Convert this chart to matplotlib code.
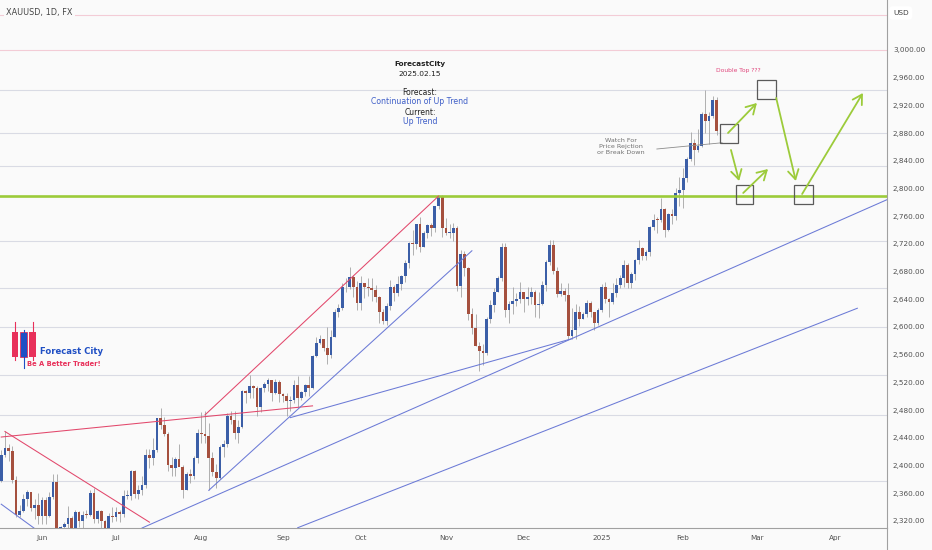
import numpy as np
import pandas as pd
import matplotlib
matplotlib.use("Agg")
import matplotlib.pyplot as plt
from matplotlib.patches import Rectangle
from matplotlib import font_manager as fm

# ---------------- data (XAUUSD daily) ----------------
opens = [2377,2415,2425,2421,2379,2329,2334,2351,2361,2338,2343,
         2327,2350,2327,2355,2376,2294,2311,2316,2324,2303,2333,2319,2329,2328,2360,2322,2334,2319,2298,2327,
         2326,2332,2330,2356,2356,2392,2359,2364,2371,2415,2411,2422,2469,2458,2445,2400,2396,2409,2397,2364,2387,2384,2410,
         2447,2446,2443,2410,2390,2382,2427,2431,2472,2465,2447,2456,2507,2504,2514,2512,2484,2512,2518,2524,2504,2520,
         2503,2500,2493,2495,2516,2497,2506,2516,2512,2558,2577,2582,2569,2559,2586,2622,2628,2657,2657,2672,2658,
         2634,2663,2657,2656,2653,2643,2622,2608,2630,2657,2649,2662,2674,2692,2721,2720,2748,2715,2736,2747,2743,2774,2788,
         2743,2736,2736,2743,2659,2706,2685,2619,2598,2573,2565,2562,2612,2631,2651,2670,2715,2625,2633,2637,2640,
         2650,2640,2643,2650,2632,2633,2660,2694,2718,2681,2648,2652,2646,2587,2595,2622,2612,2618,2634,2621,2606,
         2624,2658,2640,2636,2649,2661,2670,2690,2663,2677,2697,2714,2702,2708,2745,2755,2754,2770,2740,2763,2760,2794,
         2798,2815,2842,2866,2856,2861,2908,2898,2905,2928]
highs = [2422,2450,2431,2428,2385,2343,2358,2364,2362,2352,2360,
         2355,2354,2361,2388,2388,2313,2318,2342,2327,2335,2334,2334,2335,2365,2368,2335,2336,2321,2331,2340,
         2340,2335,2364,2364,2393,2393,2371,2385,2424,2424,2440,2469,2483,2470,2448,2412,2412,2431,2400,2390,2395,2413,2452,
         2477,2478,2461,2419,2402,2430,2437,2475,2479,2479,2466,2509,2509,2531,2516,2514,2513,2521,2526,2524,2525,2524,
         2505,2504,2500,2523,2529,2507,2518,2529,2560,2586,2589,2583,2600,2595,2626,2633,2664,2670,2686,2675,2666,
         2673,2664,2671,2670,2660,2644,2626,2634,2668,2660,2674,2675,2696,2722,2740,2749,2759,2738,2748,2750,2774,2790,2790,
         2758,2748,2750,2746,2711,2709,2686,2627,2618,2578,2576,2614,2639,2656,2674,2721,2721,2637,2658,2649,2665,
         2650,2658,2658,2654,2650,2667,2697,2726,2726,2686,2664,2656,2663,2628,2633,2630,2622,2639,2637,2622,2627,
         2662,2665,2642,2664,2670,2675,2697,2692,2680,2698,2725,2716,2711,2746,2763,2759,2786,2772,2764,2770,2800,2817,
         2830,2845,2882,2871,2886,2911,2942,2910,2933,2932]
lows = [2376,2412,2407,2374,2325,2325,2333,2341,2334,2323,2315,
        2316,2315,2325,2352,2287,2287,2298,2302,2300,2302,2311,2309,2324,2327,2317,2317,2309,2293,2296,2318,
        2319,2318,2326,2351,2350,2353,2352,2357,2367,2396,2401,2419,2453,2442,2392,2384,2385,2403,2353,2364,2375,2381,2404,
        2433,2432,2364,2384,2368,2380,2412,2427,2460,2438,2432,2454,2490,2497,2498,2471,2477,2506,2507,2493,2503,2491,
        2491,2472,2478,2490,2485,2494,2500,2500,2510,2556,2575,2565,2546,2555,2585,2615,2625,2651,2655,2643,2625,
        2624,2642,2644,2638,2636,2606,2604,2603,2625,2637,2645,2654,2665,2685,2704,2713,2708,2715,2728,2732,2737,2771,2730,
        2733,2729,2724,2652,2643,2674,2610,2590,2573,2537,2545,2559,2605,2622,2650,2667,2614,2605,2619,2630,2634,
        2622,2631,2633,2614,2613,2631,2652,2690,2676,2643,2644,2637,2583,2583,2583,2602,2612,2614,2614,2596,2603,
        2622,2634,2615,2633,2643,2656,2657,2656,2656,2668,2691,2696,2696,2703,2740,2735,2751,2730,2739,2748,2755,2774,
        2772,2809,2840,2834,2853,2860,2880,2864,2902,2877]
closes = [2415,2425,2421,2379,2329,2334,2351,2361,2338,2343,2327,
          2350,2327,2355,2376,2294,2311,2316,2324,2303,2333,2319,2329,2328,2360,2322,2334,2319,2298,2327,2326,
          2332,2330,2356,2356,2392,2359,2364,2371,2415,2411,2422,2469,2458,2445,2400,2396,2409,2397,2364,2387,2384,2410,2447,
          2446,2443,2410,2390,2382,2427,2431,2472,2465,2447,2456,2507,2504,2514,2512,2484,2512,2518,2524,2504,2520,2503,
          2500,2493,2495,2516,2497,2506,2516,2512,2558,2577,2582,2569,2559,2586,2622,2628,2657,2657,2672,2658,2634,
          2663,2657,2656,2653,2643,2622,2608,2630,2657,2649,2662,2674,2692,2721,2720,2748,2715,2736,2747,2743,2774,2788,2743,
          2736,2736,2743,2659,2706,2685,2619,2598,2573,2565,2562,2612,2631,2651,2670,2715,2625,2633,2637,2640,2650,
          2640,2643,2650,2632,2633,2660,2694,2718,2681,2648,2652,2646,2587,2595,2622,2612,2618,2634,2621,2606,2624,
          2658,2640,2636,2649,2661,2670,2690,2663,2677,2697,2714,2702,2708,2745,2755,2754,2770,2740,2763,2760,2794,2798,
          2815,2842,2866,2856,2861,2908,2898,2905,2928,2883]

holidays = ["2024-12-25", "2025-01-01"]
first_day, last_day, calendar_end = "2024-05-17", "2025-02-14", "2025-05-30"

month_names = ["Jun", "Jul", "Aug", "Sep", "Oct", "Nov", "Dec", "2025", "Feb", "Mar", "Apr"]
price_ticks = list(range(2320, 3001, 40))

# horizontal support/resistance levels drawn on chart
levels_gray = [2942, 2880, 2832.5, 2724, 2656, 2600, 2530.6, 2472.8, 2377.5]
levels_pink = [3050.5, 3000]
key_level = 2789

# trend lines: (bar index, price) pairs
red_lines = [((0, 2441), (84, 2486)), ((1, 2449), (40, 2318)), ((55, 2473), (118, 2789))]
blue_lines = [((0, 2344), (10, 2305)), ((56, 2364), (127, 2710)), ((78, 2469), (154, 2583)),
              ((38, 2309.6), (239, 2783.8)), ((80, 2310), (231, 2627))]
watch_line = ((176.9, 2857), (194.5, 2866))
boxes = [(193.95, 198.8, 2865.7, 2893.1), (203.93, 209.06, 2929.2, 2956.7),
         (198.26, 202.85, 2777.6, 2805.0), (213.91, 219.04, 2777.6, 2805.0)]
arrows = [((196.1, 2880.1), (203.9, 2923.5)), ((196.9, 2855.6), (199.1, 2810.8)),
          ((200.2, 2793.5), (206.9, 2828.1)), ((209.1, 2930.7), (214.4, 2810.8)),
          ((216.1, 2792.0), (232.5, 2937.9))]

# ---------------- setup ----------------
BG = "#fafafa"
UP, DOWN, WICK = "#3b5ea7", "#a5503e", "#a3a3a3"
RED, BLUE, GREEN = "#e2476b", "#6b7ad6", "#9ccb3a"

hol = pd.to_datetime(holidays)
cal = pd.bdate_range(first_day, calendar_end)
cal = cal[~cal.isin(hol)]
dates = cal[cal <= pd.Timestamp(last_day)]
assert len(dates) == len(closes)

fig = plt.figure(figsize=(9.32, 5.5), dpi=100, facecolor=BG)
ax = fig.add_axes([0, 22 / 550, 887 / 932, 528 / 550], facecolor=BG)
ax.set_xlim(-0.33, 239.0)
ax.set_ylim(2309.6, 3072.2)

# levels
for p in levels_gray:
    ax.axhline(p, color="#d9dbe4", lw=0.8, zorder=1)
for p in levels_pink:
    ax.axhline(p, color="#f3ccd6", lw=0.8, zorder=1)

# candles
x = np.arange(len(closes))
o, h, l, c = map(np.array, (opens, highs, lows, closes))
up = c >= o
ax.vlines(x, l, h, color=WICK, lw=0.6, zorder=2)
bottom = np.minimum(o, c)
height = np.maximum(np.abs(c - o), 1.2)
ax.bar(x[up], height[up], bottom=bottom[up], width=0.74, color=UP, lw=0, zorder=3)
ax.bar(x[~up], height[~up], bottom=bottom[~up], width=0.74, color=DOWN, lw=0, zorder=3)

# key level
ax.axhline(key_level, color=GREEN, lw=1.9, zorder=4)

# trendlines
for (a, b) in red_lines:
    ax.plot([a[0], b[0]], [a[1], b[1]], color=RED, lw=0.75, zorder=5)
for (a, b) in blue_lines:
    ax.plot([a[0], b[0]], [a[1], b[1]], color=BLUE, lw=0.75, zorder=5)
ax.plot([watch_line[0][0], watch_line[1][0]], [watch_line[0][1], watch_line[1][1]],
        color="#8c8c8c", lw=0.6, zorder=5)

for (x0, x1, y0, y1) in boxes:
    ax.add_patch(Rectangle((x0, y0), x1 - x0, y1 - y0, fill=False, ec="#5a5a5a", lw=0.9, zorder=6))
for (a, b) in arrows:
    ax.annotate("", xy=b, xytext=a,
                arrowprops=dict(arrowstyle="->,head_length=0.55,head_width=0.32", color=GREEN,
                                lw=1.3, shrinkA=0, shrinkB=0, mutation_scale=12), zorder=7)

ax.text(198.8, 2969.7, "Double Top ???", color="#e0457b", fontsize=4.3, ha="center", va="center", zorder=8)
ax.text(167.2, 2861, "Watch For\nPrice Rejction\nor Break Down", color="#707070", fontsize=4.6,
        ha="center", va="center", linespacing=1.2, zorder=8)

# axes styling
for s in ["left", "top"]:
    ax.spines[s].set_visible(False)
for s in ["right", "bottom"]:
    ax.spines[s].set_color("#a0a0a0")
    ax.spines[s].set_linewidth(0.8)
ax.yaxis.tick_right()
ax.set_yticks(price_ticks)
ax.set_yticklabels([f"{p:,.2f}" for p in price_ticks])
ax.tick_params(axis="y", length=0, pad=4.3, labelsize=5.2, labelcolor="#505050")

per = cal.to_period("M")
uniq = per.unique()[1:1 + len(month_names)]
month_idx = [int(np.argmax(per == p)) for p in uniq]
ax.set_xticks(month_idx)
ax.set_xticklabels(month_names)
ax.tick_params(axis="x", length=0, pad=5.0, labelsize=5.2, labelcolor="#505050")

# ---------------- overlay (pixel coords) ----------------
ov = fig.add_axes([0, 0, 1, 1], facecolor="none")
ov.set_xlim(0, 932)
ov.set_ylim(550, 0)
ov.axis("off")
ov.plot([887, 887], [528, 550], color="#a0a0a0", lw=0.8)

ov.text(6, 13, "XAUUSD, 1D, FX", fontsize=5.9, color="#454545", ha="left", va="center",
        bbox=dict(fc=BG, ec="none", pad=1.5))
ov.text(893, 13, "USD", fontsize=5.3, color="#404040", ha="left", va="center",
        bbox=dict(boxstyle="round,pad=0.5", fc="white", ec="none"))

cx = 420
ov.text(cx, 64, "ForecastCity", fontsize=5.2, weight="bold", color="#202020", ha="center", va="center")
ov.text(cx, 74, "2025.02.15", fontsize=5.4, color="#202020", ha="center", va="center")
ov.text(cx, 92.7, "Forecast:", fontsize=5.5, color="#202020", ha="center", va="center")
ov.text(cx, 102, "Continuation of Up Trend", fontsize=5.6, color="#3f5fc8", ha="center", va="center")
ov.text(cx, 112.3, "Current:", fontsize=5.5, color="#202020", ha="center", va="center")
ov.text(cx, 121.7, "Up Trend", fontsize=5.6, color="#3f5fc8", ha="center", va="center")

# logo
LRED, LBLUE = "#e8305a", "#1f4fc4"
ov.plot([15, 15], [322, 360], color=LRED, lw=0.8)
ov.plot([33, 33], [322, 360], color=LRED, lw=0.8)
ov.plot([24, 24], [330, 368], color=LBLUE, lw=0.8)
ov.add_patch(Rectangle((12, 332), 6, 25, fc=LRED, ec="none"))
ov.add_patch(Rectangle((29, 332), 7, 25, fc=LRED, ec="none"))
ov.add_patch(Rectangle((20, 332), 7, 25, fc=LBLUE, ec=LRED, lw=0.6))
names = {f.name for f in fm.fontManager.ttflist}
if "Liberation Sans Narrow" in names:
    lf, s1, s2 = "Liberation Sans Narrow", 8.7, 6.9
else:
    lf, s1, s2 = "DejaVu Sans", 6.1, 4.9
ov.text(40, 352, "Forecast City", fontsize=s1, weight="bold", family=lf, color=LBLUE, ha="left", va="center")
ov.text(27, 364.5, "Be A Better Trader!", fontsize=s2, weight="bold", family=lf, color=LRED, ha="left", va="center")

fig.savefig("out.png", dpi=100, facecolor=BG)
